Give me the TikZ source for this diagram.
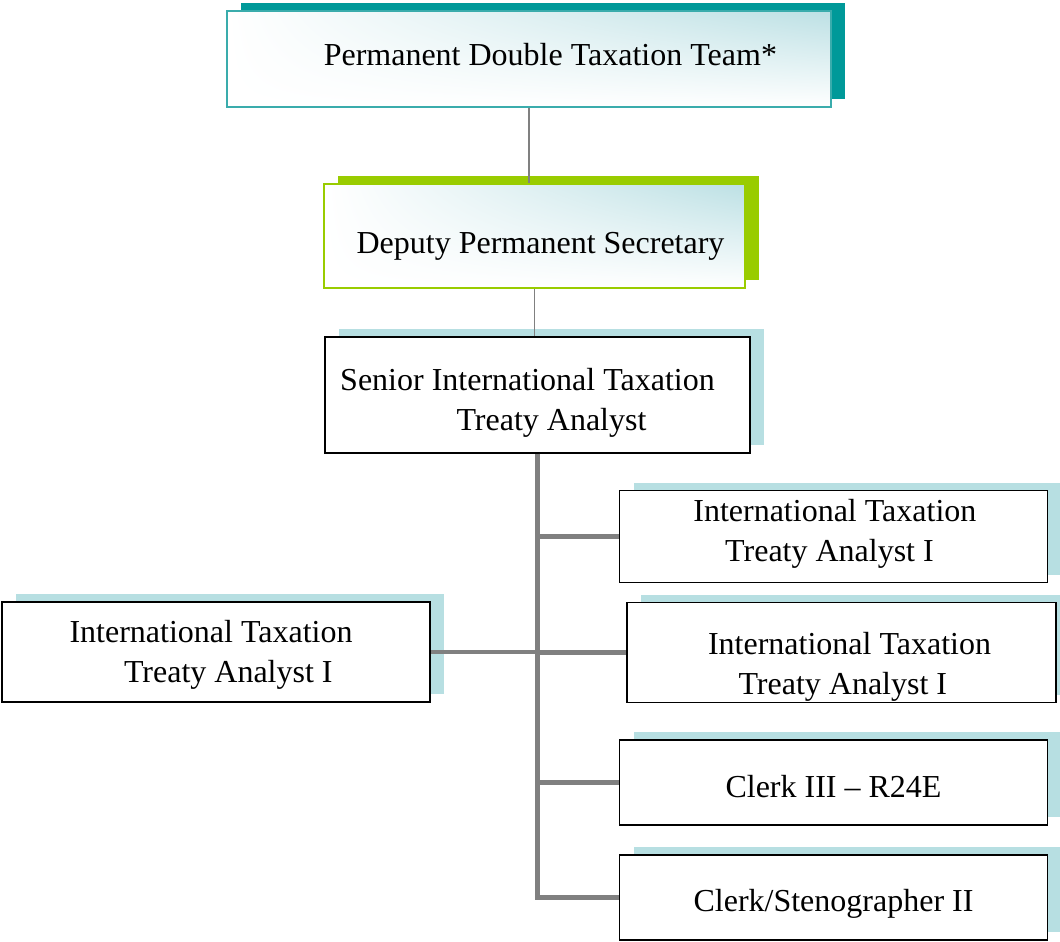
\documentclass[tikz,border=0pt]{standalone}
\usepackage{fontspec}
\setmainfont{Liberation Serif}
\usepackage{xcolor}
\usepackage{tikz}
\usetikzlibrary{shadows,shadings}

\definecolor{tealdark}{HTML}{009999}
\definecolor{tealline}{HTML}{3AACAC}
\definecolor{limegreen}{HTML}{99CC00}
\definecolor{paleblue}{HTML}{B7DFE2}
\definecolor{gradteal}{HTML}{BCE0E4}
\definecolor{linkgray}{HTML}{808080}

\begin{document}
\begin{tikzpicture}[x=0.75pt, y=-0.75pt,
        post/.style={draw, inner sep=0pt},
        tag/.style={align=center, inner sep=0pt, font=\fontsize{24}{30}\selectfont},
        headpost/.style={post, line width=1.2pt, shade,
            upper left=white, upper right=gradteal,
            lower left=white, lower right=white},
        staffpost/.style={post, fill=white, line width=1pt,
            general shadow={fill=paleblue, shadow xshift=10.5pt, shadow yshift=6pt}},
        thinlink/.style={draw=linkgray, line width=1.1pt},
        thicklink/.style={draw=linkgray, line width=4.2pt}]
        \useasboundingbox (0, 0) rectangle (1060, 942);
        \node (1) at (529, 59) [headpost, draw=tealline, minimum width=453pt, minimum height=72pt,
            general shadow={fill=tealdark, shadow xshift=10.5pt, shadow yshift=6pt},
            label={[tag, xshift=16pt, yshift=3pt]center:Permanent Double Taxation Team*}] {};
        \node (2) at (534.5, 236) [headpost, draw=limegreen, minimum width=315.75pt, minimum height=78pt,
            general shadow={fill=limegreen, shadow xshift=10.5pt, shadow yshift=6pt},
            label={[tag, xshift=4.5pt, yshift=-7.5pt]center:Deputy Permanent Secretary}] {};
        \node (3) at (537.5, 395) [staffpost, minimum width=318.75pt, minimum height=87pt,
            label={[tag, xshift=-7.5pt, yshift=-6pt]center:Senior International Taxation\\\hspace*{36pt}Treaty Analyst}] {};
        \node (4) at (833.5, 536.5) [staffpost, minimum width=321pt, minimum height=69pt,
            label={[tag, xshift=1pt, yshift=2pt]center:International Taxation\\\hspace*{-8pt}Treaty Analyst I}] {};
        \node (5) at (841.5, 652.5) [staffpost, minimum width=321.75pt, minimum height=75pt,
            label={[tag, xshift=6pt, yshift=-10.5pt]center:International Taxation\\\hspace*{-10pt}Treaty Analyst I}] {};
        \node (6) at (216, 652) [staffpost, minimum width=321pt, minimum height=75pt,
            label={[tag, xshift=-3.75pt, yshift=-2.5pt]center:International Taxation\\\hspace*{26pt}Treaty Analyst I}] {};
        \node (7) at (833.5, 782.5) [staffpost, minimum width=321pt, minimum height=63.75pt,
            label={[tag, yshift=-3pt]center:Clerk III -- R24E}] {};
        \node (8) at (833.5, 897.5) [staffpost, minimum width=321pt, minimum height=63.75pt,
            label={[tag, yshift=-4.5pt]center:Clerk/Stenographer II}] {};
        \draw [thinlink] (1.south) -- (1.south |- 2.north);
        \draw [thinlink] (2.south) -- (2.south |- 3.north);
        \draw [thicklink] (3.south) -- (3.south |- 8.west) -- (8.west);
        \draw [thicklink] (3.south |- 4.west) -- (4.west);
        \draw [thicklink] (3.south |- 5.west) -- (5.west);
        \draw [thicklink] (3.south |- 7.west) -- (7.west);
        \draw [thicklink, line width=3pt] (3.south |- 6.east) -- (6.east);
    \end{tikzpicture}
\end{document}
